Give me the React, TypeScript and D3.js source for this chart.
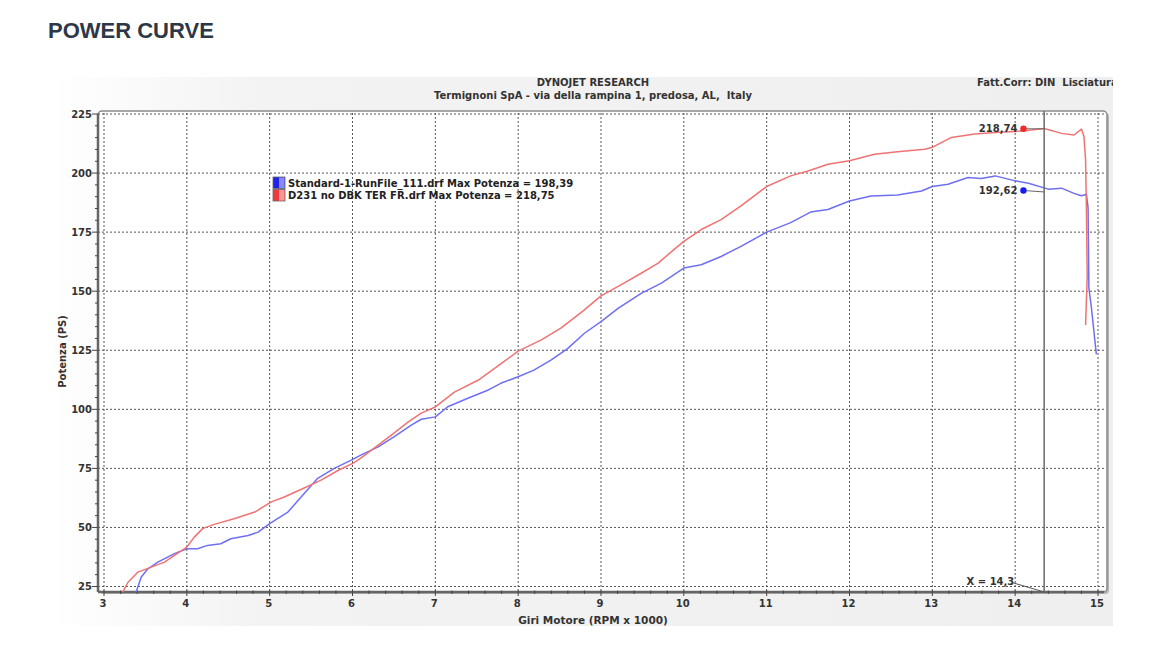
import React from "react";
import * as d3 from "d3";

// Standard exhaust (blue)
const blueRpm = [3.38, 3.45, 3.53, 3.65, 3.85, 4.0, 4.13, 4.25, 4.41, 4.53, 4.74, 4.86, 5.0, 5.22, 5.38, 5.58, 5.78, 6.01, 6.1, 6.31, 6.5, 6.71, 6.83, 7.0, 7.15, 7.4, 7.64, 7.79, 8.0, 8.19, 8.4, 8.6, 8.8, 9.0, 9.21, 9.49, 9.73, 10.0, 10.21, 10.45, 10.69, 11.0, 11.29, 11.53, 11.74, 12.0, 12.26, 12.58, 12.87, 13.0, 13.19, 13.43, 13.59, 13.76, 14.0, 14.16, 14.4, 14.56, 14.71, 14.8, 14.86, 14.88, 14.89, 14.92, 14.98];
const bluePs = [21.9, 29, 32.5, 35.3, 38.9, 41, 41, 42.4, 43.1, 45.2, 46.6, 48, 51.6, 56.5, 62.9, 70.8, 75, 78.9, 80.6, 84.1, 88.3, 93.3, 95.8, 96.8, 101.1, 104.8, 108.2, 111, 113.8, 116.6, 120.9, 125.8, 132.2, 137.1, 142.8, 149.2, 153.4, 159.8, 161.2, 164.7, 169, 175, 179, 183.5, 184.6, 188.2, 190.3, 190.7, 192.4, 194.3, 195.3, 198.1, 197.7, 198.8, 196.7, 195.7, 193.2, 193.6, 191.4, 190.4, 191, 185.4, 151.4, 143.1, 123.3];

// Termignoni D231 (red)
const redRpm = [3.2, 3.29, 3.41, 3.57, 3.73, 3.85, 4.0, 4.09, 4.19, 4.33, 4.57, 4.82, 5.02, 5.17, 5.41, 5.62, 5.83, 6.01, 6.1, 6.31, 6.5, 6.67, 6.83, 7.0, 7.23, 7.52, 7.79, 8.0, 8.28, 8.52, 8.8, 9.0, 9.24, 9.49, 9.69, 9.88, 10.0, 10.21, 10.45, 10.69, 11.0, 11.29, 11.5, 11.74, 12.0, 12.3, 12.58, 12.91, 13.0, 13.23, 13.51, 13.76, 14.0, 14.2, 14.35, 14.56, 14.71, 14.8, 14.83, 14.85, 14.86, 14.87, 14.85];
const redPs = [21, 26.8, 31.1, 33.2, 35.3, 38.2, 41.7, 45.9, 49.5, 51.3, 53.7, 56.5, 60.8, 62.8, 66.6, 70, 74.2, 77.2, 79.3, 84.8, 89.9, 94.6, 98.4, 101, 107.3, 112.4, 119.2, 124.6, 129.4, 134.5, 142.1, 148, 152.7, 157.7, 161.9, 167.6, 171.1, 176.1, 180.3, 186.1, 194.3, 198.8, 200.9, 203.7, 205.2, 208, 209, 210.1, 210.9, 215.1, 216.5, 217.2, 217.6, 218.2, 218.9, 216.8, 216.1, 218.6, 215.6, 205.7, 185, 156.2, 135.7];

const xTicks = [3, 4, 5, 6, 7, 8, 9, 10, 11, 12, 13, 14, 15];
const yTicks = [25, 50, 75, 100, 125, 150, 175, 200, 225];
const legendLabels = [
    "Standard-1-RunFile_111.drf Max Potenza = 198,39",
    "D231 no DBK TER FR.drf Max Potenza = 218,75",
];
const cursorRpm = 14.35;
const markerRpm = 14.1;
const markerValues = [218.74, 192.62];
const markerLabels = ["218,74", "192,62"];
const markerEnds = [218.74, 192.0];

const BLUE = "#6f6ff2";
const RED = "#f07373";
const FONT = "'DejaVu Sans', Verdana, sans-serif";

export default function App() {
    const x = d3.scaleLinear().domain([3, 15]).range([104, 1098]);
    const y = d3.scaleLinear().domain([25, 225]).range([586.5, 114]);

    const left = x(3) - 6;
    const right = x(15) + 9;
    const top = y(225) - 3;
    const bottom = y(25) + 5.5;

    const line = d3.line<[number, number]>()
        .x(d => x(d[0]))
        .y(d => y(d[1]));

    const bluePts = blueRpm.map((r, i) => [r, bluePs[i]] as [number, number]);
    const redPts = redRpm.map((r, i) => [r, redPs[i]] as [number, number]);

    const minorY = d3.range(25, 226, 5);
    const minorX = d3.range(3, 15.01, 0.2);
    const cx = x(cursorRpm);

    return (
        <svg width={1170} height={653} style={{ position: "absolute", left: 0, top: 0, display: "block" }}>
            <defs>
                <linearGradient id="bg" x1="0" x2="1" y1="0" y2="0">
                    <stop offset="0" stopColor="#ffffff" />
                    <stop offset="0.2" stopColor="#f3f3f3" />
                    <stop offset="1" stopColor="#efefef" />
                </linearGradient>
                <clipPath id="plot">
                    <rect x={left + 1} y={top + 1} width={right - left - 2} height={bottom - top - 1} />
                </clipPath>
                <clipPath id="img">
                    <rect x={48} y={77} width={1065} height={549} />
                </clipPath>
            </defs>
            <rect width={1170} height={653} fill="#fff" />

            <text x={48} y={38} fontFamily="'Liberation Sans', Arial, sans-serif" fontWeight={700}
                  fontSize={22} fill="#2d3748">POWER CURVE</text>

            <rect x={48} y={77} width={1065} height={549} fill="url(#bg)" />

            {/* header */}
            <g fontFamily={FONT} fontWeight={700} fontSize={10} fill="#333" clipPath="url(#img)">
                <text x={593} y={86} textAnchor="middle">DYNOJET RESEARCH</text>
                <text x={593} y={99} textAnchor="middle" xmlSpace="preserve">Termignoni SpA - via della rampina 1, predosa, AL,  Italy</text>
                <text x={977} y={86} xmlSpace="preserve">Fatt.Corr: DIN  Lisciatura</text>
            </g>

            {/* plot frame */}
            <rect x={left + 2} y={top + 2} width={right - left} height={bottom - top} rx={4} fill="#b5b5b5" />
            <rect x={left} y={top} width={right - left} height={bottom - top} rx={4} fill="#fff" stroke="#8a8a8a" strokeWidth={1.5} />

            {/* grid */}
            <g stroke="#555" strokeWidth={1} strokeDasharray="2,2">
                {xTicks.map(t => (
                    <line key={"gx" + t} x1={x(t)} x2={x(t)} y1={top + 2} y2={bottom} />
                ))}
                {yTicks.map(t => (
                    <line key={"gy" + t} x1={left} x2={right - 1} y1={y(t)} y2={y(t)} />
                ))}
            </g>

            {/* axes */}
            <line x1={left} x2={left} y1={top + 3} y2={bottom} stroke="#666" strokeWidth={2.5} />
            <line x1={left} x2={right - 3} y1={bottom} y2={bottom} stroke="#666" strokeWidth={2.5} />
            <g stroke="#444" strokeWidth={1}>
                {minorY.map(t => (
                    <line key={"my" + t} x1={left - (t % 25 === 0 ? 6 : 3)} x2={left} y1={y(t)} y2={y(t)} />
                ))}
                {minorX.map((t, i) => (
                    <line key={"mx" + i} x1={x(t)} x2={x(t)} y1={bottom - 1.5} y2={bottom + (i % 5 === 0 ? 4 : 2)} />
                ))}
            </g>

            <g fontFamily={FONT} fontWeight={700} fontSize={10} fill="#333">
                {yTicks.map(t => (
                    <text key={"ty" + t} x={left - 6} y={y(t) + 3.5} textAnchor="end">{t}</text>
                ))}
                {xTicks.map(t => (
                    <text key={"tx" + t} x={x(t) - 1} y={bottom + 15} textAnchor="middle">{t}</text>
                ))}
                <text x={593} y={624} textAnchor="middle" fontSize={10.5}>Giri Motore (RPM x 1000)</text>
                <text transform={`translate(66,${(top + bottom) / 2}) rotate(-90)`} textAnchor="middle">Potenza (PS)</text>
            </g>

            {/* curves */}
            <g clipPath="url(#plot)" fill="none" strokeWidth={1.5} strokeLinejoin="round">
                <path d={line(bluePts) || ""} stroke={BLUE} />
                <path d={line(redPts) || ""} stroke={RED} />
            </g>

            {/* cursor */}
            <line x1={cx} x2={cx} y1={top} y2={bottom} stroke="#6a6a6a" strokeWidth={1.5} />
            <line x1={x(13.98)} x2={cx} y1={y(26.5)} y2={bottom} stroke="#555" strokeWidth={1} />
            <text x={x(13.99)} y={585} textAnchor="end" fontFamily={FONT} fontWeight={700}
                  fontSize={10} fill="#333">X = 14,3</text>

            {markerValues.map((v, i) => (
                <g key={"mk" + i}>
                    <line x1={x(markerRpm)} x2={cx} y1={y(v)} y2={y(markerEnds[i])} stroke="#666" strokeWidth={1} />
                    <circle cx={x(markerRpm)} cy={y(v)} r={3.2} fill={i === 0 ? "#ee2a2a" : "#1a1aee"} />
                    <text x={x(markerRpm) - 6} y={y(v) + 3.5} textAnchor="end" fontFamily={FONT}
                          fontWeight={700} fontSize={10} fill="#333">{markerLabels[i]}</text>
                </g>
            ))}

            {/* legend */}
            <g fontFamily={FONT} fontWeight={700} fontSize={10} fill="#222">
                {legendLabels.map((l, i) => (
                    <g key={"lg" + i}>
                        <rect x={273} y={177 + i * 12.5} width={12} height={11.5}
                              fill={i === 0 ? "#2222ee" : "#ee3a3a"} stroke="#666" strokeWidth={0.8} />
                        <rect x={279} y={177.5 + i * 12.5} width={5.5} height={10.5}
                              fill={i === 0 ? "#8a8af5" : "#f29a9a"} />
                        <text x={288} y={186.5 + i * 12} fill="#222">{l}</text>
                    </g>
                ))}
            </g>
        </svg>
    );
}
